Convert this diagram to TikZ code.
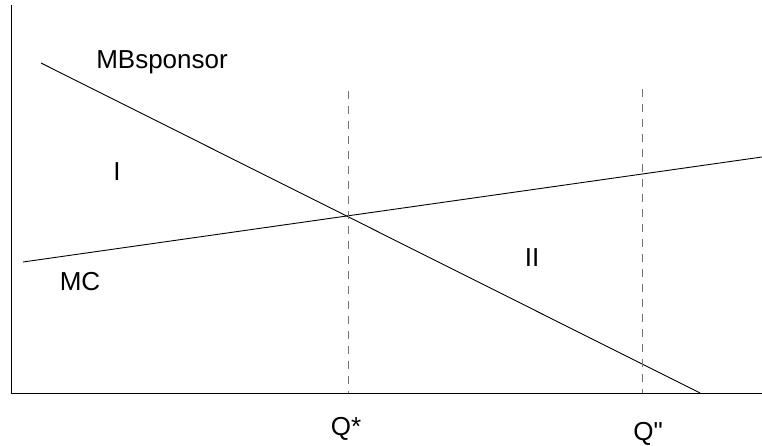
\documentclass[tikz,border=0pt]{standalone}
\usepackage{fontspec}
\setmainfont{Liberation Sans}
\newfontfamily\plainsans{Liberation Sans}
\begin{document}
\begin{tikzpicture}[x=1pt,y=-1pt,
  axis/.style={line width=1pt,black},
  curve/.style={line width=0.9pt,black},
  guide/.style={line width=1pt,black!55,dash pattern=on 8pt off 7pt},
  lbl/.style={font=\plainsans\fontsize{26}{30}\selectfont,inner sep=0pt}]
\useasboundingbox (0,0) rectangle (762,446);
% axes
\coordinate (O) at (11,393);
\coordinate (Ytop) at (11,5);
\coordinate (Xend) at (762,393);
\draw[axis] (Ytop) -- (O) -- (Xend);
% curves
\coordinate (mb1) at (41,63);
\coordinate (mb2) at (700,393);
\coordinate (mc1) at (23,262);
\coordinate (mc2) at (762,157);
\draw[curve] (mb1) -- (mb2);
\draw[curve] (mc1) -- (mc2);
% guides
\coordinate (q1t) at (348,91);
\coordinate (q1b) at (348,393);
\coordinate (q2t) at (642,89);
\coordinate (q2b) at (642,393);
\draw[guide] (q1t) -- (q1b);
\draw[guide] (q2t) -- (q2b);
% labels
\node[lbl] (mbl) at (162,62) {MBsponsor};
\node[lbl] (mcl) at (80,282) {MC};
\node[lbl] (r1) at (117,172) {I};
\node[lbl] (r2) at (532,258) {II};
\node[lbl] (qs) at (346,429) {Q*};
\node[lbl] (qd) at (648,434) {Q"};
\end{tikzpicture}
\end{document}
